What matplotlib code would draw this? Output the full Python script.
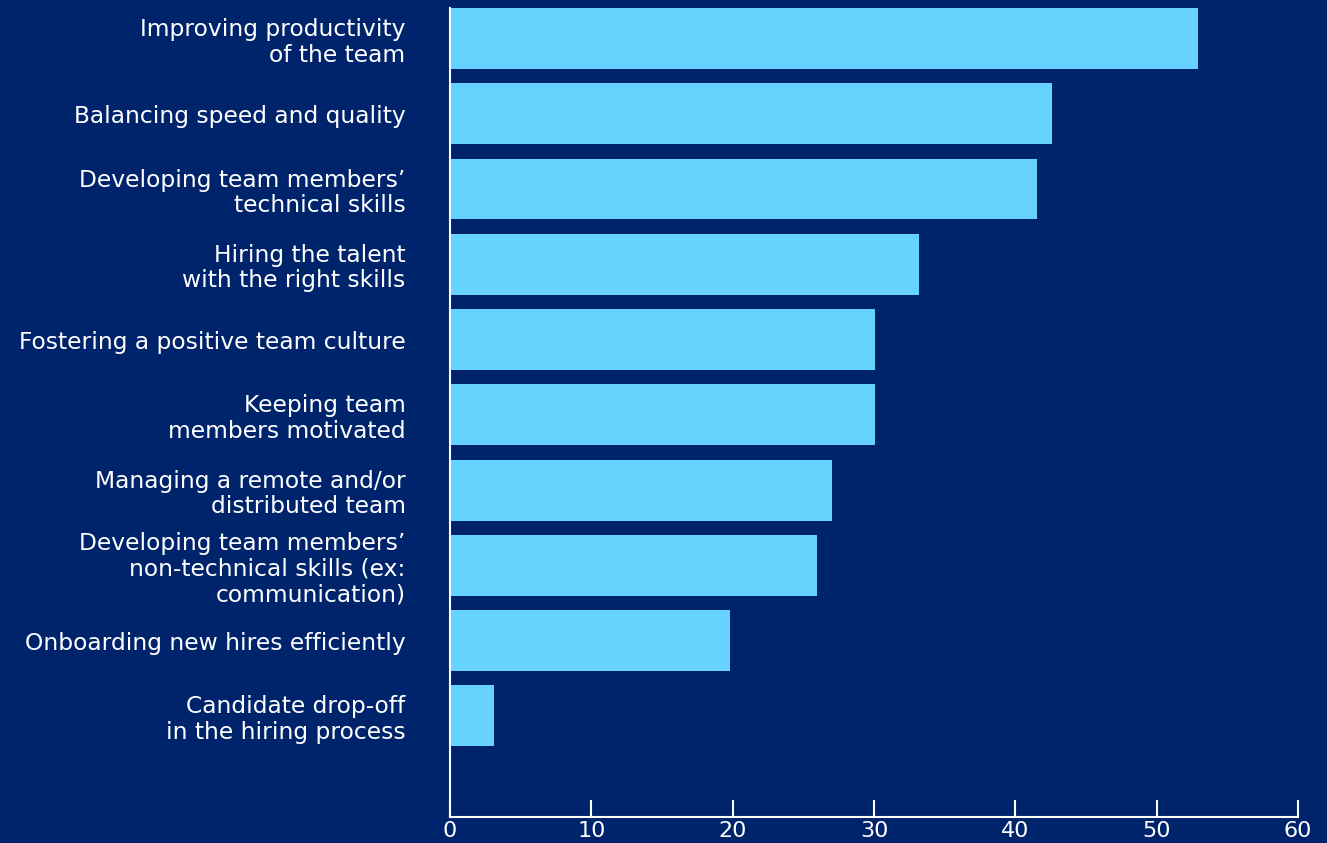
import matplotlib
matplotlib.use("Agg")
import matplotlib.pyplot as plt

categories = [
    "Improving productivity\nof the team",
    "Balancing speed and quality",
    "Developing team members’\ntechnical skills",
    "Hiring the talent\nwith the right skills",
    "Fostering a positive team culture",
    "Keeping team\nmembers motivated",
    "Managing a remote and/or\ndistributed team",
    "Developing team members’\nnon-technical skills (ex:\ncommunication)",
    "Onboarding new hires efficiently",
    "Candidate drop-off\nin the hiring process",
]
values = [52.9, 42.6, 41.5, 33.2, 30.1, 30.1, 27.0, 26.0, 19.8, 3.1]
xticks = [0, 10, 20, 30, 40, 50, 60]

bg = "#00246b"
bar_color = "#66d3ff"

plt.rcParams["font.family"] = ["DejaVu Sans"]

fig = plt.figure(figsize=(13.27, 8.43), dpi=100, facecolor=bg)
ax = fig.add_axes([450 / 1327, 26 / 843, 848 / 1327, 809 / 843])
ax.set_facecolor(bg)

pos = list(range(len(categories)))
ax.barh(pos, values, height=0.81, color=bar_color)

ax.set_ylim(len(categories) - 1 + 1.344, -0.405)
ax.set_xlim(0, 60)
ax.set_xticks(xticks)
ax.set_yticks(pos)
ax.set_yticklabels(categories, fontsize=16.8, color="white", linespacing=1.15)
ax.tick_params(axis="y", length=0, pad=32)
ax.tick_params(axis="x", direction="in", length=12.5, width=1.5, color="white",
               labelcolor="white", labelsize=16, pad=3)

for side in ["top", "right"]:
    ax.spines[side].set_visible(False)
for side in ["left", "bottom"]:
    ax.spines[side].set_color("white")
    ax.spines[side].set_linewidth(1.5)

fig.savefig("out.png", facecolor=bg)
